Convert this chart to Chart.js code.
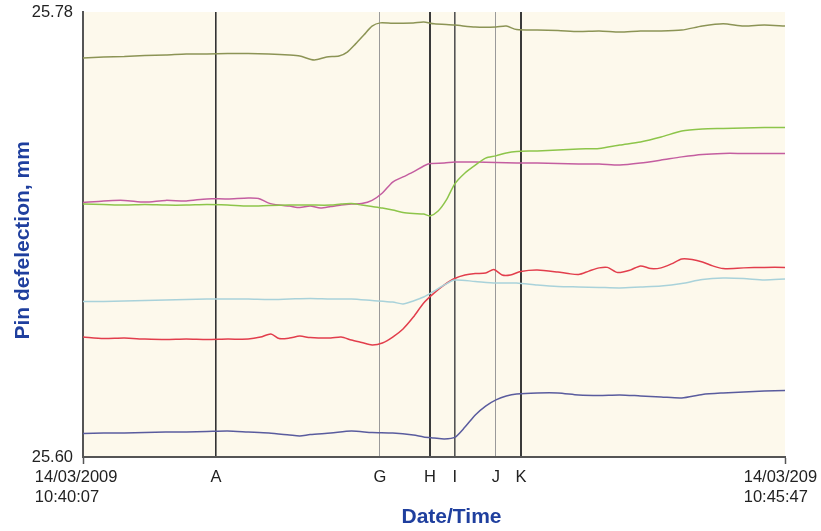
<!DOCTYPE html>
<html lang="en">
<head>
  <meta charset="UTF-8" />
  <title>Pin deflection</title>
  <script src="https://cdn.jsdelivr.net/npm/chart.js"></script>
  <style>
    html, body { margin: 0; padding: 0; background: #fff; }
    canvas { display: block; }
  </style>
</head>
<body>
  <canvas id="chartPin" width="821" height="531"></canvas>

  <script>
    // time axis in seconds after 10:40:07
    const xTicks = [0, 64.4, 143.8, 168, 180.1, 200, 212.1, 340];
    const xTickLabels = [['14/03/2009   ', '10:40:07       '], 'A', 'G', 'H', 'I', 'J', 'K', ['14/03/209  ', '10:45:47    ']];
    const yTicks = [25.60, 25.78];

    // series (time s, deflection mm)
    const oliveT = [0, 10, 20, 30, 40, 50, 60, 70, 80, 90, 100, 105, 112, 118, 124, 128, 132, 136, 140, 144, 150, 160, 165, 170, 180, 190, 200, 205, 210, 220, 230, 240, 250, 260, 270, 280, 290, 300, 310, 320, 330, 340];
    const oliveV = [25.7614, 25.7618, 25.7620, 25.7624, 25.7626, 25.7630, 25.7630, 25.7632, 25.7632, 25.7630, 25.7626, 25.7622, 25.7606, 25.7618, 25.7622, 25.7638, 25.7671, 25.7707, 25.7743, 25.7756, 25.7754, 25.7756, 25.7760, 25.7752, 25.7747, 25.7739, 25.7739, 25.7743, 25.7729, 25.7727, 25.7725, 25.7721, 25.7723, 25.7719, 25.7723, 25.7723, 25.7727, 25.7743, 25.7752, 25.7743, 25.7747, 25.7743];

    const greenT = [0, 10, 20, 30, 40, 50, 60, 70, 80, 90, 100, 110, 120, 125, 130, 135, 140, 145, 150, 155, 160, 165, 168, 172, 176, 180, 185, 190, 195, 200, 205, 210, 220, 230, 240, 250, 260, 270, 280, 290, 300, 310, 320, 330, 340];
    const greenV = [25.7023, 25.7021, 25.7019, 25.7021, 25.7019, 25.7019, 25.7021, 25.7019, 25.7015, 25.7017, 25.7019, 25.7019, 25.7019, 25.7023, 25.7025, 25.7019, 25.7013, 25.7007, 25.6999, 25.6989, 25.6985, 25.6983, 25.6975, 25.6995, 25.7040, 25.7104, 25.7149, 25.7181, 25.7209, 25.7218, 25.7230, 25.7236, 25.7238, 25.7242, 25.7246, 25.7248, 25.7262, 25.7274, 25.7294, 25.7319, 25.7327, 25.7329, 25.7331, 25.7333, 25.7333];

    const magentaT = [0, 10, 20, 30, 40, 50, 60, 70, 80, 85, 90, 95, 100, 105, 110, 115, 120, 125, 130, 135, 140, 145, 150, 155, 160, 165, 168, 175, 180, 190, 200, 210, 220, 230, 240, 250, 260, 270, 280, 290, 300, 310, 320, 330, 340];
    const magentaV = [25.7029, 25.7036, 25.7038, 25.7031, 25.7038, 25.7036, 25.7044, 25.7044, 25.7048, 25.7046, 25.7027, 25.7019, 25.7015, 25.7009, 25.7015, 25.7007, 25.7013, 25.7019, 25.7023, 25.7025, 25.7038, 25.7068, 25.7112, 25.7133, 25.7153, 25.7177, 25.7187, 25.7189, 25.7193, 25.7193, 25.7191, 25.7189, 25.7189, 25.7187, 25.7185, 25.7185, 25.7181, 25.7189, 25.7201, 25.7214, 25.7224, 25.7228, 25.7228, 25.7228, 25.7228];

    const cyanT = [0, 10, 20, 30, 40, 50, 60, 70, 80, 90, 100, 110, 120, 130, 140, 150, 155, 160, 165, 170, 175, 180, 190, 200, 210, 220, 230, 240, 250, 260, 270, 280, 290, 300, 310, 320, 330, 340];
    const cyanV = [25.6629, 25.6629, 25.6631, 25.6633, 25.6635, 25.6637, 25.6639, 25.6639, 25.6639, 25.6637, 25.6639, 25.6641, 25.6639, 25.6639, 25.6633, 25.6627, 25.6619, 25.6631, 25.6647, 25.6671, 25.6696, 25.6716, 25.6710, 25.6704, 25.6704, 25.6696, 25.6690, 25.6688, 25.6686, 25.6684, 25.6688, 25.6692, 25.6702, 25.6718, 25.6724, 25.6722, 25.6716, 25.6720];

    const redT = [0, 10, 20, 30, 40, 50, 60, 70, 80, 86, 91, 95, 100, 105, 110, 120, 125, 130, 135, 140, 145, 150, 155, 160, 165, 170, 175, 180, 185, 190, 195, 199, 203, 207, 212, 220, 230, 235, 240, 245, 250, 254, 259, 265, 270, 275, 280, 285, 290, 295, 300, 305, 310, 320, 330, 340];
    const redV = [25.6485, 25.6479, 25.6481, 25.6477, 25.6475, 25.6477, 25.6475, 25.6477, 25.6477, 25.6485, 25.6498, 25.6479, 25.6481, 25.6489, 25.6483, 25.6481, 25.6485, 25.6473, 25.6463, 25.6453, 25.6461, 25.6485, 25.6518, 25.6566, 25.6623, 25.6663, 25.6696, 25.6722, 25.6736, 25.6742, 25.6744, 25.6758, 25.6736, 25.6736, 25.6750, 25.6756, 25.6748, 25.6742, 25.6738, 25.6752, 25.6765, 25.6767, 25.6746, 25.6756, 25.6773, 25.6762, 25.6765, 25.6781, 25.6801, 25.6799, 25.6789, 25.6773, 25.6762, 25.6765, 25.6767, 25.6767];

    const navyT = [0, 10, 20, 30, 40, 50, 60, 70, 80, 90, 100, 105, 110, 120, 130, 140, 150, 160, 165, 170, 175, 180, 185, 190, 195, 200, 205, 210, 220, 230, 240, 250, 260, 270, 280, 290, 300, 310, 320, 330, 340];
    const navyV = [25.6095, 25.6097, 25.6097, 25.6099, 25.6101, 25.6101, 25.6103, 25.6105, 25.6101, 25.6097, 25.6089, 25.6085, 25.6091, 25.6097, 25.6105, 25.6099, 25.6097, 25.6089, 25.6081, 25.6077, 25.6073, 25.6079, 25.6121, 25.6170, 25.6206, 25.6231, 25.6247, 25.6255, 25.6259, 25.6259, 25.6251, 25.6249, 25.6251, 25.6247, 25.6243, 25.6239, 25.6253, 25.6259, 25.6263, 25.6267, 25.6269];

    // marker line styles, one per x tick
    const markerColors = ['rgba(0,0,0,0)', '#333', '#9a9a9a', '#3a3a3a', '#555', '#9a9a9a', '#3a3a3a', 'rgba(0,0,0,0)'];
    const markerWidths = [1, 1.6, 1, 2, 1.6, 1, 2, 1];

    const pts = (t, v) => t.map((x, i) => ({ x: x, y: v[i] }));
    const line = (label, t, v, color) => ({
      label: label,
      data: pts(t, v),
      borderColor: color,
      borderWidth: 1.5,
      pointRadius: 0,
      tension: 0.25,
      fill: false
    });

    const bgPlugin = {
      id: 'plotBg',
      beforeDraw(chart) {
        const { ctx, chartArea: a } = chart;
        ctx.save();
        ctx.fillStyle = '#fdf9ec';
        ctx.fillRect(a.left, a.top, a.right - a.left, a.bottom - a.top);
        ctx.restore();
      }
    };

    new Chart(document.getElementById('chartPin'), {
      type: 'line',
      data: {
        datasets: [
          line('olive', oliveT, oliveV, '#8c9455'),
          line('green', greenT, greenV, '#8dc54a'),
          line('magenta', magentaT, magentaV, '#c45ea0'),
          line('light blue', cyanT, cyanV, '#a9d2da'),
          line('red', redT, redV, '#e23e4c'),
          line('navy', navyT, navyV, '#5a5c9e')
        ]
      },
      options: {
        responsive: false,
        animation: false,
        layout: { padding: { top: 12, right: 36, bottom: 0, left: 0 } },
        plugins: { legend: { display: false }, tooltip: { enabled: false } },
        scales: {
          x: {
            type: 'linear',
            min: 0,
            max: 340,
            afterBuildTicks: s => { s.ticks = xTicks.map(v => ({ value: v })); },
            afterFit: s => { s.height = 74; s.paddingLeft = 0; s.paddingRight = 0; },
            ticks: {
              autoSkip: false,
              maxRotation: 0,
              padding: 4,
              color: '#222',
              font: { family: 'Liberation Sans, Arial, sans-serif', size: 16.5, lineHeight: 1.2 },
              callback: (v, i) => xTickLabels[i]
            },
            grid: {
              color: c => markerColors[c.index],
              lineWidth: c => markerWidths[c.index],
              tickColor: c => (c.index === 0 || c.index === xTicks.length - 1) ? '#555' : 'rgba(0,0,0,0)',
              tickLength: 7,
              tickWidth: 1.5
            },
            border: { display: true, color: '#555', width: 2 },
            title: {
              display: true,
              text: '      Date/Time',
              color: '#1f3f9e',
              font: { family: 'Liberation Sans, Arial, sans-serif', size: 21, weight: 'bold' },
              padding: { top: 0, bottom: 1 }
            }
          },
          y: {
            min: 25.60,
            max: 25.78,
            afterBuildTicks: s => { s.ticks = yTicks.map(v => ({ value: v })); },
            afterFit: s => { s.width = 83; s.paddingTop = 0; s.paddingBottom = 0; },
            ticks: {
              padding: 10,
              color: '#222',
              font: { family: 'Liberation Sans, Arial, sans-serif', size: 16.5 },
              callback: v => v.toFixed(2)
            },
            grid: { display: false, drawTicks: false },
            border: { display: true, color: '#555', width: 2 },
            title: {
              display: true,
              text: 'Pin defelection, mm  ',
              color: '#1f3f9e',
              font: { family: 'Liberation Sans, Arial, sans-serif', size: 21, weight: 'bold' },
              padding: { top: 11, bottom: 0 }
            }
          }
        }
      },
      plugins: [bgPlugin]
    });
  </script>
</body>
</html>
